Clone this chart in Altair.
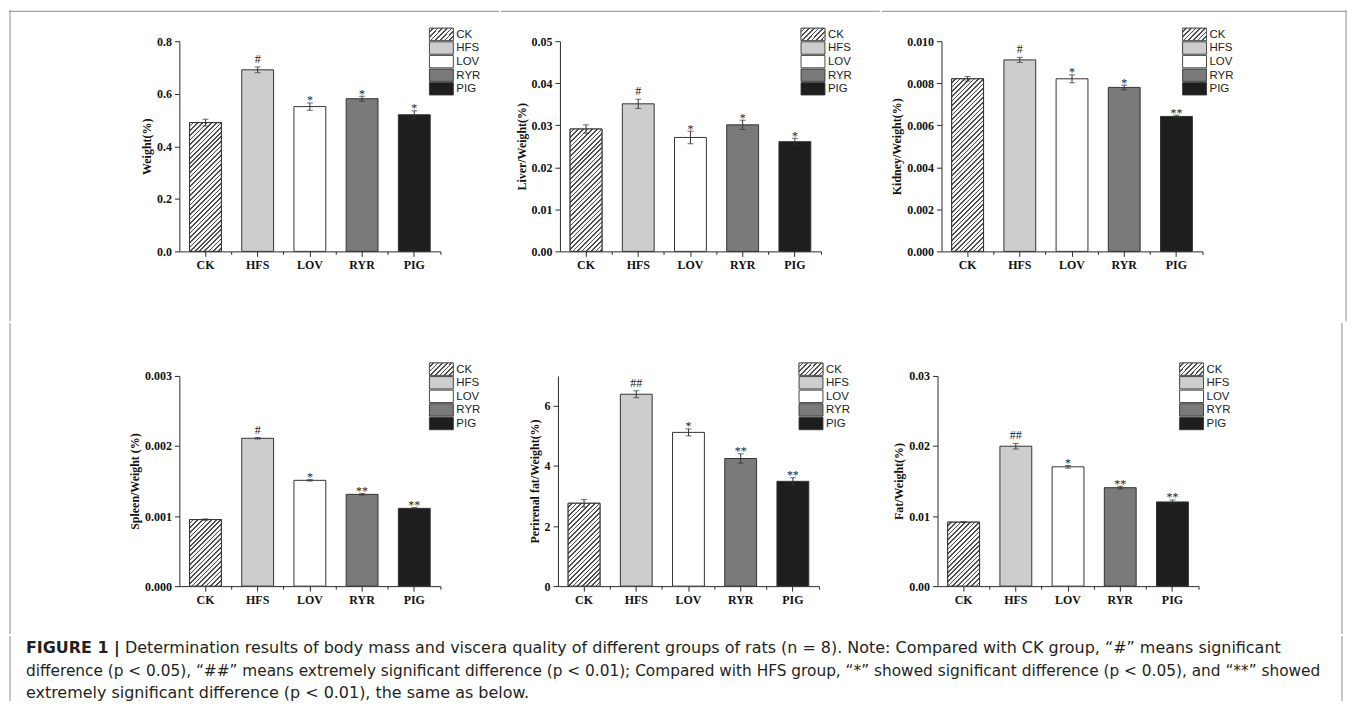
import math
import altair as alt
import pandas as pd

# ---------------- data ----------------
groups = ["CK", "HFS", "LOV", "RYR", "PIG"]
fill_colors = ["#4d4d4d", "#cdcdcd", "#ffffff", "#7a7a7a", "#1e1e1e"]

weight = [0.490, 0.691, 0.551, 0.581, 0.520]
weight_err = [0.013, 0.011, 0.014, 0.0095, 0.015]
weight_sig = ["", "#", "*", "*", "*"]

liver = [0.0291, 0.0351, 0.0271, 0.0301, 0.0261]
liver_err = [0.0010, 0.0011, 0.0015, 0.0011, 0.0008]
liver_sig = ["", "#", "*", "*", "*"]

kidney = [0.00821, 0.00911, 0.00821, 0.00780, 0.00642]
kidney_err = [0.00011, 0.00012, 0.00019, 0.00011, 0.00006]
kidney_sig = ["", "#", "*", "*", "**"]

spleen = [0.00095, 0.00211, 0.00151, 0.00131, 0.00111]
spleen_err = [0.00001, 0.00001, 0.00001, 0.00001, 0.00001]
spleen_sig = ["", "#", "*", "**", "**"]

perirenal = [2.76, 6.39, 5.12, 4.25, 3.49]
perirenal_err = [0.127, 0.116, 0.116, 0.155, 0.122]
perirenal_sig = ["", "##", "*", "**", "**"]

fat = [0.00913, 0.01997, 0.01703, 0.01405, 0.01202]
fat_err = [0.00005, 0.00040, 0.00019, 0.00019, 0.00028]
fat_sig = ["", "##", "*", "**", "**"]

caption_bold = "FIGURE 1 |"
caption_lines = [
    " Determination results of body mass and viscera quality of different groups of rats (n = 8). "
    "Note: Compared with CK group, \u201c#\u201d means significant",
    "difference (p < 0.05), \u201c##\u201d means extremely significant difference (p < 0.01); "
    "Compared with HFS group, \u201c*\u201d showed significant difference (p < 0.05), and \u201c**\u201d showed",
    "extremely significant difference (p < 0.01), the same as below.",
]

# ---------------- layout / style ----------------
SERIF = "Liberation Serif"
SANS = "Liberation Sans"
CAPFONT = "DejaVu Sans"
W, H = 262, 211
PAD_IN = 0.39
BW = W / len(groups) * (1 - PAD_IN)
AX = "#2b2b2b"
FRAME = "#8c8c8c"
LEG_W, LEG_STEP, LEG_PAD = 24, 13.4, 0.09

COL_X = [179, 559, 940]            # page x of each plot area
ROW_Y = [39, 373]                  # page y of each plot area
CELL_X = [8, 500, 880, 1346.5]     # page x boundaries of layout cells
CELL_Y = [8, 320, 632, 697.5]      # page y boundaries of layout cells
FR_L, FR_T, FR_R = 9, 9, 1346      # outer frame lines (page)


def hatch_gradient(bar_h, bar_w=BW, period=3.3, dark=0.36, c_bg="#f6f6f6", c_ln="#4d4d4d"):
    s = (bar_w + bar_h) / (bar_w ** 2 + bar_h ** 2)
    L = (bar_w + bar_h) / math.sqrt(2)
    p = period / L
    stops = []
    a = 0.0
    while a < 1:
        b = min(a + p * (1 - dark), 1.0)
        c = min(a + p, 1.0)
        stops += [{"offset": round(a, 5), "color": c_bg}, {"offset": round(b, 5), "color": c_bg}]
        if b < 1:
            stops += [{"offset": round(b, 5), "color": c_ln}, {"offset": round(c, 5), "color": c_ln}]
        a += p
    return {"gradient": "linear", "x1": 0, "y1": 0,
            "x2": round(bar_w * s, 5), "y2": round(bar_h * s, 5), "stops": stops}


def guides(ox, oy, cell, lines):
    """Invisible cell anchor plus visible outer-frame segments (page coords -> local)."""
    one = pd.DataFrame({"k": [0]})
    x0, y0, x1, y1 = cell
    out = [alt.Chart(one).mark_rule(opacity=0, strokeWidth=0.1).encode(
        x=alt.value(x0 - ox), x2=alt.value(x1 - ox), y=alt.value(y0 - oy), y2=alt.value(y1 - oy))]
    for (a, b, c, d) in lines:
        out.append(alt.Chart(one).mark_rule(color=FRAME, strokeWidth=1).encode(
            x=alt.value(a - ox), x2=alt.value(c - ox), y=alt.value(b - oy), y2=alt.value(d - oy)))
    return out


def panel(title, vals, errs, sigs, ymax, major, minor, fmt, legx, r, c, lines):
    ox, oy = COL_X[c], ROW_Y[r]
    cell = (CELL_X[c], CELL_Y[r], CELL_X[c + 1], CELL_Y[r + 1])
    df = pd.DataFrame({"group": groups, "value": vals, "err": errs, "sig": sigs})
    df["lo"] = df["value"] - df["err"]
    df["hi"] = df["value"] + df["err"]
    base = alt.Chart(df)

    xscale = alt.Scale(domain=groups, paddingInner=PAD_IN, paddingOuter=PAD_IN / 2)
    yscale = alt.Scale(domain=[0, ymax], nice=False, zero=True)
    fscale = alt.Scale(domain=groups, range=fill_colors)
    n = int(round(ymax / minor))
    ticks = [round(i * minor, 7) for i in range(n + 1)]
    test = f"abs(datum.value / {major} - round(datum.value / {major})) < 0.001"
    yaxis = alt.Axis(title=title, values=ticks, labelOverlap=False,
                     labelExpr=f"({test}) ? format(datum.value, '{fmt}') : ''",
                     tickSize={"condition": {"test": test, "value": 5}, "value": 3},
                     labelPadding=3, titlePadding=3)
    xaxis = alt.Axis(title=None, orient="bottom", labelAngle=0, tickSize=5, labelPadding=3)
    xminor = alt.Axis(title=None, orient="bottom", labels=False, domain=False, tickSize=3,
                      bandPosition=1 + (PAD_IN / 2) / (1 - PAD_IN))

    XA = alt.X("group:N", scale=xscale, axis=xaxis, sort=groups)
    XM = alt.X("group:N", scale=xscale, axis=xminor, sort=groups)
    XD = alt.X("group:N", scale=xscale, axis=None, sort=groups)
    YD = lambda f: alt.Y(f, scale=yscale)

    bars = base.mark_bar(stroke="#333333", strokeWidth=1).encode(
        x=XA, y=alt.Y("value:Q", scale=yscale, axis=yaxis),
        fill=alt.Fill("group:N", scale=fscale, legend=None))
    hatch = base.transform_filter("datum.group == 'CK'").mark_bar(
        fill=hatch_gradient(vals[0] / ymax * H), stroke="#333333", strokeWidth=1).encode(
        x=XD, y=YD("value:Q"))
    err = base.mark_rule(color="#333333", strokeWidth=1).encode(
        x=XM, y=YD("lo:Q"), y2="hi:Q")
    caps = base.transform_fold(["lo", "hi"], as_=["k", "v"]).mark_tick(
        color="#333333", thickness=1, size=6).encode(x=XD, y=YD("v:Q"))
    hash_txt = base.transform_filter("indexof(datum.sig, '#') >= 0").mark_text(
        font=SERIF, fontSize=12, color="#222222", baseline="alphabetic", dy=-4).encode(
        x=XD, y=YD("hi:Q"), text="sig:N")
    star_txt = base.transform_filter("indexof(datum.sig, '*') >= 0").mark_text(
        font=SERIF, fontSize=12, color="#222222", baseline="alphabetic", dy=1.5).encode(
        x=XD, y=YD("hi:Q"), text="sig:N")
    main = alt.layer(bars, hatch, err, caps, hash_txt, star_txt).resolve_axis(x="independent")

    # legend built from marks on its own band scale
    lscale = alt.Scale(domain=groups, range=[-13, -13 + len(groups) * LEG_STEP],
                       paddingInner=LEG_PAD, paddingOuter=0)
    LY = alt.Y("group:N", scale=lscale, axis=None, sort=groups)
    sw_h = LEG_STEP * (1 - LEG_PAD)
    sw = base.mark_rect(stroke="#333333", strokeWidth=0.9).encode(
        x=alt.value(legx), x2=alt.value(legx + LEG_W), y=LY,
        fill=alt.Fill("group:N", scale=fscale, legend=None))
    sw_ck = base.transform_filter("datum.group == 'CK'").mark_rect(
        fill=hatch_gradient(sw_h, LEG_W), stroke="#555555", strokeWidth=0.9).encode(
        x=alt.value(legx), x2=alt.value(legx + LEG_W), y=LY)
    lab = base.mark_text(align="left", baseline="middle", font=SANS, fontSize=11.5,
                         color="#222222", dy=0.5).encode(
        x=alt.value(legx + LEG_W + 3), y=LY, text="group:N")
    legl = alt.layer(sw, sw_ck, lab)

    return alt.layer(*guides(ox, oy, cell, lines), main, legl).resolve_scale(
        y="independent").properties(width=W, height=H)


top = lambda c: (CELL_X[c], FR_T, CELL_X[c + 1], FR_T)
left = lambda r: (FR_L, CELL_Y[r], FR_L, CELL_Y[r + 1])
right = lambda r: (FR_R, CELL_Y[r], FR_R, CELL_Y[r + 1])

p1 = panel("Weight(%)", weight, weight_err, weight_sig, 0.8, 0.2, 0.1, ".1f", 251, 0, 0,
           [top(0), left(0)])
p2 = panel("Liver/Weight(%)", liver, liver_err, liver_sig, 0.05, 0.01, 0.005, ".2f", 242, 0, 1,
           [top(1)])
p3 = panel("Kidney/Weight(%)", kidney, kidney_err, kidney_sig, 0.010, 0.002, 0.001, ".3f", 242, 0, 2,
           [top(2), right(0)])
p4 = panel("Spleen/Weight (%)", spleen, spleen_err, spleen_sig, 0.003, 0.001, 0.0005, ".3f", 251, 1, 0,
           [left(1)])
p5 = panel("Perirenal fat/Weight(%)", perirenal, perirenal_err, perirenal_sig, 7, 1, 0.5, "d", 242, 1, 1,
           [])
p6 = panel("Fat/Weight(%)", fat, fat_err, fat_sig, 0.03, 0.01, 0.005, ".2f", 243, 1, 2,
           [right(1)])

# ---------------- caption ----------------
DJB = {"F": .683, "I": .372, "G": .821, "U": .812, "R": .770, "E": .683, " ": .348, "1": .696,
       "|": .366}
CFS = 16
cox, coy = COL_X[0], CELL_Y[2]           # caption origin aligned with first plot column
bold_w = sum(DJB[ch] for ch in caption_bold) * CFS + 5
base_y = [649.5, 672, 694.5]
cap_df = pd.DataFrame({
    "x": [25 - cox, 25 - cox + bold_w, 25 - cox, 25 - cox],
    "y": [base_y[0] - coy, base_y[0] - coy, base_y[1] - coy, base_y[2] - coy],
    "text": [caption_bold, caption_lines[0], caption_lines[1], caption_lines[2]],
    "kind": ["bold", "normal", "narrow", "normal"],
})


def cap_layer(kind, size=CFS, **kw):
    return alt.Chart(cap_df).transform_filter(f"datum.kind == '{kind}'").mark_text(
        align="left", baseline="alphabetic", font=CAPFONT, fontSize=size, color="#231f20", **kw
    ).encode(x=alt.X("x:Q", scale=None, axis=None), y=alt.Y("y:Q", scale=None, axis=None),
             text="text:N")


caption = alt.layer(
    *guides(cox, coy, (CELL_X[0], CELL_Y[2], CELL_X[3], CELL_Y[3]), [left(2), right(2)]),
    cap_layer("bold", fontWeight="bold"), cap_layer("normal"), cap_layer("narrow", size=15.4),
).properties(width=1, height=1)

row1 = alt.hconcat(p1, p2, p3, spacing=0)
row2 = alt.hconcat(p4, p5, p6, spacing=0)

chart = alt.vconcat(row1, row2, caption, spacing=0).properties(
    padding=0
).configure_view(strokeWidth=0).configure_axis(
    grid=False, labelFont=SERIF, titleFont=SERIF, labelFontWeight="bold", titleFontWeight="bold",
    labelFontSize=12, titleFontSize=12, labelColor="#111111", titleColor="#111111",
    domainColor=AX, tickColor=AX, domainWidth=1, tickWidth=1)

chart.save("out.html", embed_options={"renderer": "svg", "actions": False})
